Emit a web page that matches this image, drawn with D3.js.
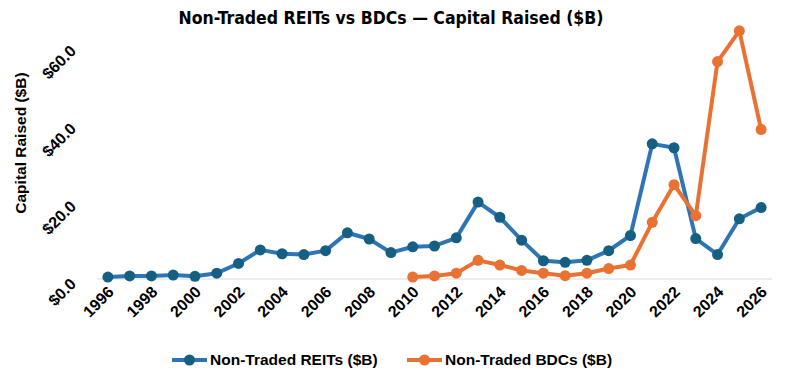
<!DOCTYPE html>
<html>
<head>
<meta charset="utf-8">
<script src="https://cdn.jsdelivr.net/npm/d3@7"></script>
<style>
  body { margin: 0; background: #fff; }
  text { font-family: "Liberation Sans", Arial, sans-serif; }
</style>
</head>
<body>
<div id="chart"></div>
<script>
const years = d3.range(1996, 2027);
const yearLabels = d3.range(1996, 2027, 2);

// values, $B
const reits = [0.5, 0.8, 0.8, 1.0, 0.7, 1.5, 4.0, 7.5, 6.5, 6.3, 7.3, 11.9, 10.3, 6.8, 8.3, 8.5,
  10.6, 19.8, 15.9, 10.0, 4.7, 4.3, 4.8, 7.3, 11.2, 34.8, 33.8, 10.4, 6.3, 15.5, 18.4];
const bdcYears = d3.range(2010, 2027);
const bdcs = [0.5, 0.8, 1.5, 4.8, 3.6, 2.2, 1.5, 0.85, 1.5, 2.7, 3.6, 14.6, 24.3, 16.3, 56.0, 63.9, 38.5];

const yTicks = [0, 20, 40, 60];

const width = 786, height = 382;
const margin = {top: 46, right: 14, bottom: 103, left: 97};

const svg = d3.select('#chart')
  .append('svg')
    .attr('width', width)
    .attr('height', height);

const x = d3.scalePoint()
  .domain(years)
  .range([margin.left, width - margin.right])
  .padding(0.5);

const y = d3.scaleLinear()
  .domain([0, 60])
  .range([height - margin.bottom, margin.top]);

// title
svg.append('text')
  .attr('x', 391)
  .attr('y', 24)
  .attr('text-anchor', 'middle')
  .style('font-family', '"Liberation Sans Narrow", "DejaVu Sans Condensed", sans-serif')
  .style('font-size', '17.5px')
  .style('font-weight', 'bold')
  .text('Non-Traded REITs vs BDCs — Capital Raised ($B)');

// y axis title
svg.append('text')
  .attr('transform', `translate(26, ${y(35)}) rotate(-90)`)
  .attr('text-anchor', 'middle')
  .style('font-size', '15.5px')
  .style('font-weight', 'bold')
  .text('Capital Raised ($B)');

// baseline
svg.append('line')
  .attr('x1', margin.left)
  .attr('x2', width - margin.right)
  .attr('y1', y(0))
  .attr('y2', y(0))
  .attr('stroke', '#d9d9d9')
  .attr('stroke-width', 1);

// y tick labels
svg.append('g')
  .selectAll('text')
  .data(yTicks)
  .join('text')
    .attr('transform', d => `translate(77, ${y(d) + 6}) rotate(-45)`)
    .attr('text-anchor', 'end')
    .style('font-size', '16px')
    .style('font-weight', 'bold')
    .text(d => '$' + d.toFixed(1));

// x tick labels
svg.append('g')
  .selectAll('text')
  .data(yearLabels)
  .join('text')
    .attr('transform', d => `translate(${x(d) + 7}, ${y(0) + 14}) rotate(-45)`)
    .attr('text-anchor', 'end')
    .style('font-size', '16px')
    .style('font-weight', 'bold')
    .text(d => d);

const line = d3.line()
  .x(d => x(d[0]))
  .y(d => y(d[1]));

const series = [
  {name: 'Non-Traded REITs ($B)', data: d3.zip(years, reits), line: '#2e75b6', dot: '#156082'},
  {name: 'Non-Traded BDCs ($B)', data: d3.zip(bdcYears, bdcs), line: '#e97132', dot: '#e97132'}
];

series.forEach(s => {
  svg.append('path')
    .datum(s.data)
    .attr('fill', 'none')
    .attr('stroke', s.line)
    .attr('stroke-width', 4)
    .attr('stroke-linejoin', 'round')
    .attr('d', line);

  svg.append('g')
    .selectAll('circle')
    .data(s.data)
    .join('circle')
      .attr('cx', d => x(d[0]))
      .attr('cy', d => y(d[1]))
      .attr('r', 5.5)
      .attr('fill', s.dot);
});

// legend
const legendX = [172, 407];
const legend = svg.append('g')
  .selectAll('g')
  .data(series)
  .join('g')
    .attr('transform', (d, i) => `translate(${legendX[i]}, 360)`);

legend.append('line')
  .attr('x1', 0).attr('x2', 35)
  .attr('stroke', d => d.line)
  .attr('stroke-width', 4);

legend.append('circle')
  .attr('cx', 17.5)
  .attr('r', 5.5)
  .attr('fill', d => d.dot);

legend.append('text')
  .attr('x', 38)
  .attr('dy', '0.35em')
  .style('font-size', '15.5px')
  .style('font-weight', 'bold')
  .text(d => d.name);
</script>
</body>
</html>
